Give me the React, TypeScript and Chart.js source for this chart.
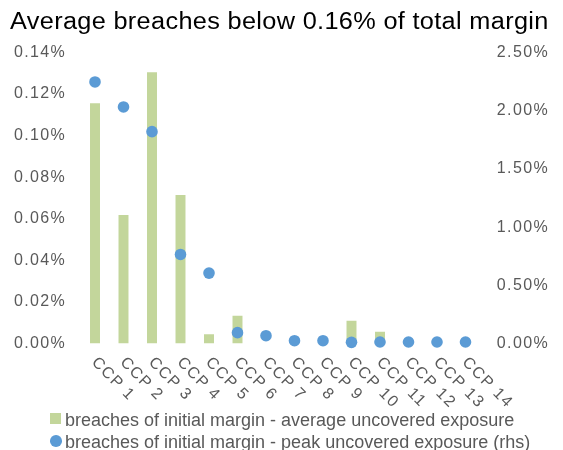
import React, { useEffect, useRef } from 'react';
import { Chart, registerables } from 'chart.js';

Chart.register(...registerables);

const titleText = 'Average breaches below 0.16% of total margin';
const categories = ['CCP 1', 'CCP 2', 'CCP 3', 'CCP 4', 'CCP 5', 'CCP 6', 'CCP 7', 'CCP 8', 'CCP 9', 'CCP 10', 'CCP 11', 'CCP 12', 'CCP 13', 'CCP 14'];
const averageUncovered = [0.1156, 0.0618, 0.1305, 0.0714, 0.0044, 0.0133, 0, 0, 0, 0.011, 0.0057, 0, 0, 0];
const peakUncovered = [2.247, 2.032, 1.82, 0.765, 0.605, 0.093, 0.067, 0.024, 0.024, 0.01, 0.013, 0.013, 0.013, 0.013];
const leftTickLabels = ['0.00%', '0.02%', '0.04%', '0.06%', '0.08%', '0.10%', '0.12%', '0.14%'];
const rightTickLabels = ['0.00%', '0.50%', '1.00%', '1.50%', '2.00%', '2.50%'];
const seriesNames = [
  'breaches of initial margin - average uncovered exposure',
  'breaches of initial margin - peak uncovered exposure (rhs)',
];

const FONT = "'Liberation Sans', Arial, sans-serif";
const GREEN = '#c3d69b';
const BLUE = '#5b9bd5';
const GREY = '#595959';
const SPACING = '1.4px';

const spacingPlugin = {
  id: 'spacingLabels',
  beforeLayout(chart: any) {
    chart.ctx.letterSpacing = SPACING;
  },
  beforeDraw(chart: any) {
    chart.ctx.letterSpacing = SPACING;
  },
  afterDraw(chart: any) {
    const ctx = chart.ctx;
    const xs = chart.scales.x;
    ctx.save();
    ctx.letterSpacing = SPACING;
    ctx.font = `16px ${FONT}`;
    ctx.fillStyle = GREY;
    ctx.textAlign = 'left';
    ctx.textBaseline = 'middle';
    (chart.data.labels as string[]).forEach((lab, i) => {
      const x = xs.getPixelForTick(i);
      ctx.save();
      ctx.translate(x - 1, xs.top + 16.5);
      ctx.rotate(Math.PI / 4);
      ctx.fillText(lab, 0, 0);
      ctx.restore();
    });
    ctx.restore();
  },
};

export default function App() {
  const ref = useRef<HTMLCanvasElement>(null);

  useEffect(() => {
    if (!ref.current) return;
    const chart = new Chart(ref.current, {
      type: 'bar',
      data: {
        labels: categories,
        datasets: [
          {
            type: 'bar',
            label: seriesNames[0],
            data: averageUncovered,
            backgroundColor: GREEN,
            borderWidth: 0,
            yAxisID: 'y',
            barPercentage: 0.35,
            categoryPercentage: 1,
            order: 1,
          } as any,
          {
            type: 'line',
            label: seriesNames[1],
            data: peakUncovered,
            showLine: false,
            pointRadius: 5.8,
            pointHoverRadius: 5.8,
            pointBackgroundColor: BLUE,
            pointBorderWidth: 0,
            borderColor: BLUE,
            yAxisID: 'y1',
            order: 0,
            clip: false,
          } as any,
        ],
      },
      options: {
        animation: false,
        responsive: false,
        devicePixelRatio: 1,
        layout: { padding: { top: 52.5, left: 0, right: 0, bottom: 0 } },
        plugins: {
          legend: { display: false },
          title: { display: false },
          tooltip: { enabled: false },
        },
        scales: {
          x: {
            grid: { display: false, drawTicks: false },
            border: { display: false },
            ticks: { display: false },
            afterFit: (s: any) => { s.height = 450 - 343.5; },
          },
          y: {
            position: 'left',
            min: 0,
            max: 0.14,
            grid: { display: false, drawTicks: false },
            border: { display: false },
            ticks: {
              stepSize: 0.02,
              padding: 14.5,
              color: GREY,
              font: { size: 16, family: FONT },
              callback: (_v: any, i: number) => leftTickLabels[i] ?? '',
            },
            afterFit: (s: any) => { s.width = 80.75; },
          },
          y1: {
            position: 'right',
            min: 0,
            max: 2.5,
            grid: { display: false, drawTicks: false },
            border: { display: false },
            ticks: {
              stepSize: 0.5,
              padding: 17,
              color: GREY,
              font: { size: 16, family: FONT },
              callback: (_v: any, i: number) => rightTickLabels[i] ?? '',
            },
            afterFit: (s: any) => { s.width = 563 - 479.75; },
          },
        },
      } as any,
      plugins: [spacingPlugin],
    });
    return () => chart.destroy();
  }, []);

  return (
    <div style={{ position: 'fixed', left: 0, top: 0, width: 563, height: 450, overflow: 'hidden', background: '#fff' }}>
      <canvas ref={ref} width={563} height={450} style={{ position: 'absolute', left: 0, top: 0, width: 563, height: 450 }} />
      <div
        style={{
          position: 'absolute', left: 10, top: 10, fontFamily: FONT, fontSize: 23, lineHeight: '23px',
          letterSpacing: '0.3px', color: '#000', whiteSpace: 'nowrap',
          transform: 'scaleX(1.1)', transformOrigin: '0 0',
        }}
      >
        {titleText}
      </div>
      <div style={{ position: 'absolute', left: 50, top: 410, fontFamily: FONT, fontSize: 18, color: GREY, whiteSpace: 'nowrap' }}>
        {seriesNames.map((name, i) => (
          <div key={name} style={{ position: 'relative', height: 21.6, lineHeight: '21.6px', paddingLeft: 15 }}>
            <span
              style={{
                position: 'absolute', left: 0, top: i === 0 ? 2.7 : 3.4,
                width: i === 0 ? 10.7 : 11.7, height: i === 0 ? 11.3 : 11.7,
                background: i === 0 ? GREEN : BLUE, borderRadius: i === 0 ? 0 : '50%',
              }}
            />
            {name}
          </div>
        ))}
      </div>
    </div>
  );
}
